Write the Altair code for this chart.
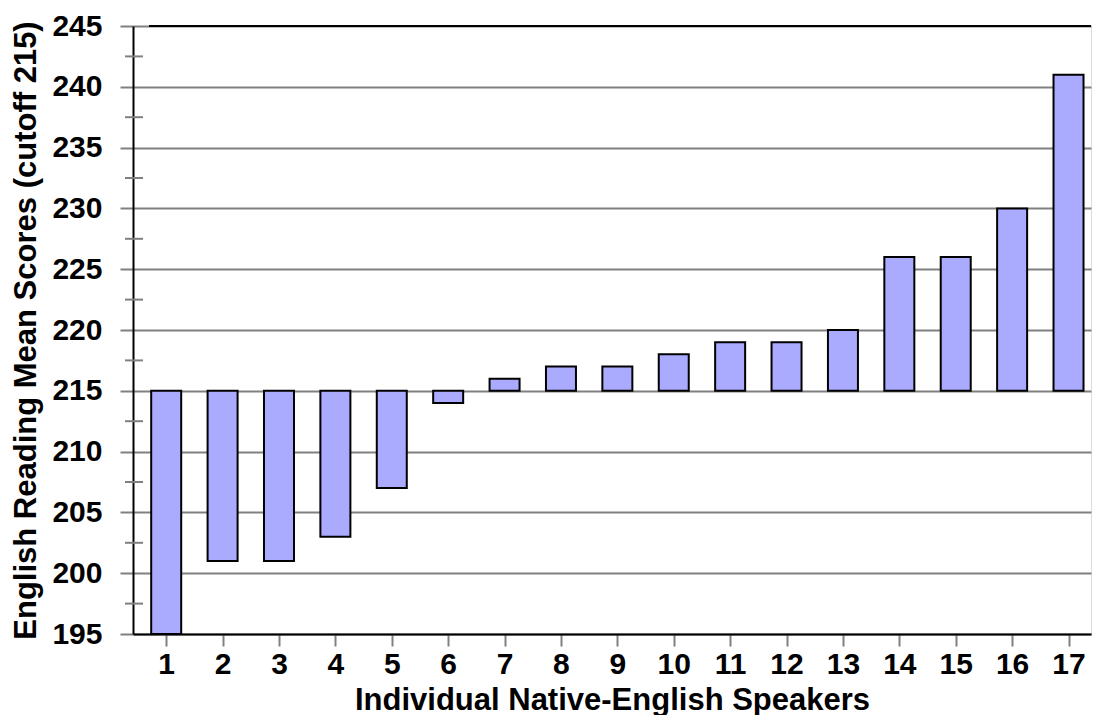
import altair as alt
import pandas as pd

speakers = list(range(1, 18))
scores = [195, 201, 201, 203, 207, 214, 216, 217, 217, 218, 219, 219, 220, 226, 226, 230, 241]
cutoff = 215
major_ticks = [195, 200, 205, 210, 215, 220, 225, 230, 235, 240, 245]
minor_ticks = [197.5, 202.5, 207.5, 212.5, 217.5, 222.5, 227.5, 232.5, 237.5, 242.5]
top_value = [245]

FONT = "Liberation Sans"
W, H = 958, 608

df = pd.DataFrame({"speaker": speakers, "score": scores, "cutoff": [cutoff] * len(scores)})

yscale = alt.Scale(domain=[195, 245], nice=False, zero=False)
xscale = alt.Scale(domain=[0.5, 17.31], nice=False, zero=False)

y_axis = alt.Axis(
    title="English Reading Mean Scores (cutoff 215)",
    values=major_ticks, format="d",
    grid=True, gridColor="#808080", gridWidth=2,
    tickColor="#808080", tickWidth=2, tickSize=13,
    domainColor="black", domainWidth=2,
    labelFont=FONT, labelFontWeight="bold", labelFontSize=30, labelColor="black",
    labelPadding=18, labelFlush=False,
    titleFont=FONT, titleFontWeight="bold", titleFontSize=31, titleColor="black",
    titlePadding=9,
)

x_axis = alt.Axis(
    title="Individual Native-English Speakers", values=speakers, format="d",
    labelAngle=0, grid=False, labelFlush=False,
    tickColor="#808080", tickWidth=2, tickSize=12,
    domainColor="black", domainWidth=2,
    labelFont=FONT, labelFontWeight="bold", labelFontSize=30, labelColor="black",
    labelPadding=3,
    titleFont=FONT, titleFontWeight="bold", titleFontSize=31, titleColor="black",
    titlePadding=6,
)

bars = alt.Chart(df).mark_bar(fill="#AAAAFF", stroke="black", strokeWidth=2, width=30).encode(
    x=alt.X("speaker:Q", scale=xscale, axis=x_axis),
    y=alt.Y("cutoff:Q", scale=yscale, axis=y_axis),
    y2="score:Q",
)

minor = alt.Chart(pd.DataFrame({"cutoff": minor_ticks})).mark_rule(
    color="#808080", strokeWidth=2
).encode(
    y=alt.Y("cutoff:Q", scale=yscale, axis=y_axis),
    x=alt.value(-8), x2=alt.value(10),
)

top = alt.Chart(pd.DataFrame({"cutoff": top_value})).mark_rule(
    color="black", strokeWidth=2
).encode(
    y=alt.Y("cutoff:Q", scale=yscale, axis=y_axis),
    x=alt.value(16), x2=alt.value(W),
)

chart = alt.layer(bars, minor, top).properties(
    width=W, height=H,
    padding={"left": 2, "top": 3, "right": 0, "bottom": 0},
).configure_view(stroke=None).configure(background="white")

chart.save("out.html", embed_options={"renderer": "svg", "actions": False})
